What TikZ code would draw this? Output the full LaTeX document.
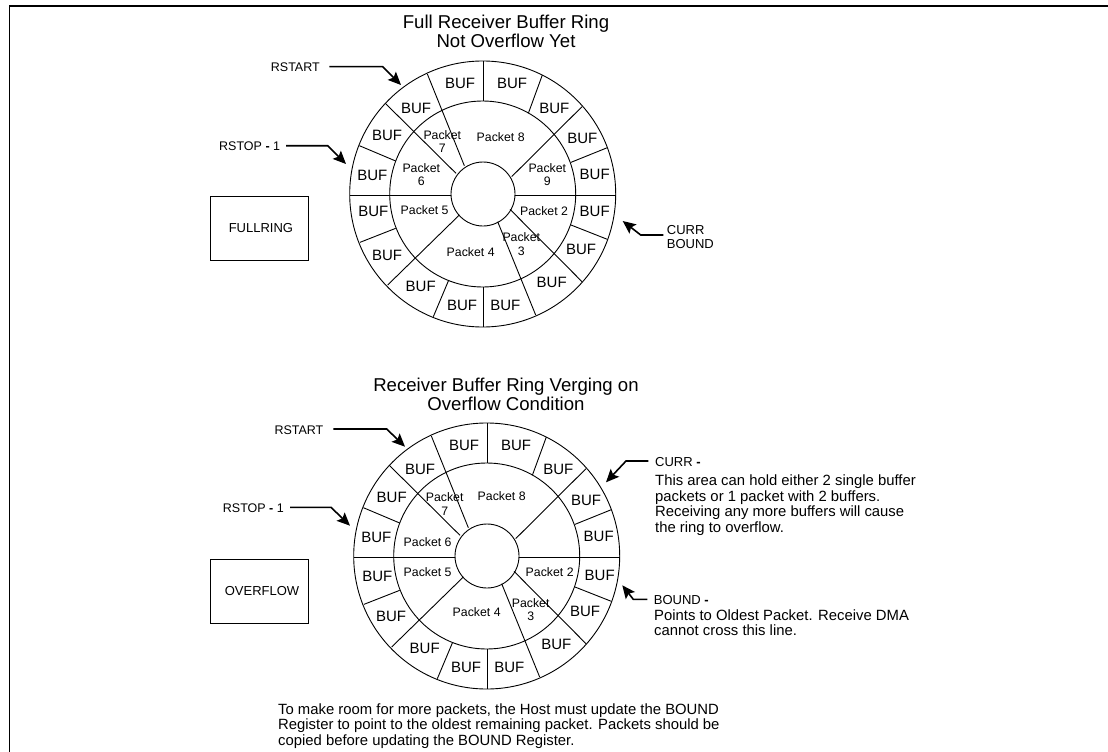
\documentclass[tikz,border=0pt]{standalone}
\usepackage{fontspec}
\setmainfont{Liberation Sans}
\usetikzlibrary{arrows.meta}
\tikzset{
  x=1pt,y=-1pt,
  ln/.style={line width=0.9pt,black},
  frameline/.style={line width=1.3pt,black},
  arr/.style={line width=1.6pt,black,-{Stealth[length=13pt,width=11.5pt,inset=2.5pt]}},
  txt/.style={inner sep=0pt,anchor=base,text=black},
  title/.style={txt,font=\fontsize{18.6}{19}\selectfont},
  buf/.style={txt,font=\fontsize{15}{16}\selectfont},
  pkt/.style={txt,font=\fontsize{12.3}{13.3}\selectfont,align=center},
  lab/.style={txt,anchor=base west,font=\fontsize{12.5}{13.4}\selectfont,align=left},
  labb/.style={lab,font=\fontsize{13}{13.4}\selectfont},
  body/.style={txt,anchor=base west,font=\fontsize{14.85}{15.35}\selectfont,align=left},
  labelbox/.style={draw,ln,minimum width=98.5pt,minimum height=64pt,inner sep=0pt,font=\fontsize{13}{15}\selectfont,text=black}
}
\newcommand{\ringdraw}[2]{%
  \begin{scope}[shift={(#1,#2)}]
    \draw[ln] (482.7,194) circle (133);
    \draw[ln] (482.7,194) circle (93);
    \draw[ln] (483,194) circle (32);
    \foreach \xa/\ya/\xb/\yb in {851/183/851/303,1027/225/985/340,1146/320/935/530,1222/443/1113/487,945/585/1247/585,1113/675/1222/718,1146/845/930/628,1007/945/893/665,849/981/849/860,700/950/745/843,563/855/778/645,480/727/587/685,449/585/753/585,478/437/587/483,556/310/768/520,682/222/793/497}
      \draw[ln] ({200+\xa/3},{\ya/3}) -- ({200+\xb/3},{\yb/3});
  \end{scope}}
\begin{document}
\begin{tikzpicture}
\useasboundingbox (0,0) rectangle (1108,752);
\draw[frameline] (9.5,752) -- (9.5,6) -- (1108,6);
\ringdraw{0}{0}
\ringdraw{4}{362}
% titles
\node[title,align=center] (t1) at (506,47.3) {Full Receiver Buffer Ring\\Not Overflow Yet};
\node[title,align=center] (t2) at (506,410.7) {Receiver Buffer Ring Verging on\\Overflow Condition};
% BUF
\foreach \x/\y [count=\i] in {780/266,936/266,1063/339,1147/430,1184/537,1184/650,1143/762,1055/863,916/930,786/930,662/875,561/780,520/650,517/540,561/422,648/339}
  \node[buf] (bufa\i) at ({200+\x/3},{\y/3}) {BUF};
\foreach \x/\y [count=\i] in {792/301,948/301,1075/373,1158/465,1196/575,1199/692,1155/798,1069/898,928/967,798/967,674/909,573/815,532/695,529/576,575/457,660/373}
  \node[buf] (bufb\i) at ({200+\x/3},{350+\y/3}) {BUF};
% packets ring 1
\node[pkt] (a8) at ({200+902/3},{425/3}) {Packet 8};
\node[pkt] (a7) at ({200+727/3},{458/3}) {Packet\\7};
\node[pkt] (a6) at ({200+664/3},{557/3}) {Packet\\6};
\node[pkt] (a9) at ({200+1042/3},{557/3}) {Packet\\9};
\node[pkt] (a5) at ({200+674/3},{644/3}) {Packet 5};
\node[pkt] (a2) at ({200+1032/3},{647/3}) {Packet 2};
\node[pkt] (a3) at ({200+964/3},{765/3}) {Packet\\3};
\node[pkt] (a4) at ({200+812/3},{770/3}) {Packet 4};
% packets ring 2
\node[pkt] (b8) at ({200+905/3},{350+452/3}) {Packet 8};
\node[pkt] (b7) at ({200+734/3},{350+495/3}) {Packet\\7};
\node[pkt] (b6) at ({200+683/3},{350+590/3}) {Packet 6};
\node[pkt] (b5) at ({200+683/3},{350+680/3}) {Packet 5};
\node[pkt] (b2) at ({200+1049/3},{350+680/3}) {Packet 2};
\node[pkt] (b3) at ({200+992/3},{350+812/3}) {Packet\\3};
\node[pkt] (b4) at ({200+830/3},{350+798/3}) {Packet 4};
% boxes
\node[labelbox] (fullring) at (259.4,228.3) {\hspace*{3pt}\raisebox{-1pt}{FULLRING}};
\node[labelbox] (overflow) at (259.5,591.2) {\hspace*{5pt}OVERFLOW};
% labels, ring 1
\node[lab] (rstarta) at (270.7,71.3) {RSTART};
\node[lab] (rstopa) at (219,150) {RSTOP {\bfseries-} 1};
\node[labb] (currb) at (666.7,248) {CURR\\BOUND};
% labels, ring 2
\node[lab] (rstartb) at (274.3,434) {RSTART};
\node[lab] (rstopb) at (222.7,512) {RSTOP {\bfseries-} 1};
\node[labb] (curr) at (655,466.7) {CURR {\bfseries-}};
\node[labb] (bound) at (653.7,604.3) {BOUND {\bfseries-}};
\node[body] (currtxt) at (655,532) {This area can hold either 2 single buffer\\packets or 1 packet with 2 buffers.\\Receiving any more buffers will cause\\the ring to overflow.};
\node[body] (boundtxt) at (654,635.7) {Points to Oldest Packet. Receive DMA\\cannot cross this line.};
\node[body] (note) at (278,745.3) {To make room for more packets, the Host must update the BOUND\\Register to point to the oldest remaining packet. Packets should be\\copied before updating the BOUND Register.};
% arrows
\coordinate (e1) at (382.7,66.7); \coordinate (h1) at (401,85);
\coordinate (s1) at (329.3,66.7);
\coordinate (e2) at (327.7,145.7); \coordinate (h2) at (346,164);
\coordinate (s2) at (286,145.7);
\coordinate (s3) at (663.3,235); \coordinate (e3) at (640.7,235); \coordinate (h3) at (622.7,221);
\coordinate (s4) at (333.3,429); \coordinate (e4) at (386.7,429); \coordinate (h4) at (405,446.7);
\coordinate (s5) at (290,507.3); \coordinate (e5) at (331,507.3); \coordinate (h5) at (350,525.7);
\coordinate (s6) at (648.3,461); \coordinate (e6) at (626,461); \coordinate (h6) at (606,482.3);
\coordinate (s7) at (647.3,599.3); \coordinate (e7) at (633.3,599.3); \coordinate (h7) at (622.3,585.3);
\draw[arr] (s1) -- (e1) -- (h1);
\draw[arr] (s2) -- (e2) -- (h2);
\draw[arr] (s3) -- (e3) -- (h3);
\draw[arr] (s4) -- (e4) -- (h4);
\draw[arr] (s5) -- (e5) -- (h5);
\draw[arr] (s6) -- (e6) -- (h6);
\draw[arr] (s7) -- (e7) -- (h7);
\end{tikzpicture}
\end{document}
